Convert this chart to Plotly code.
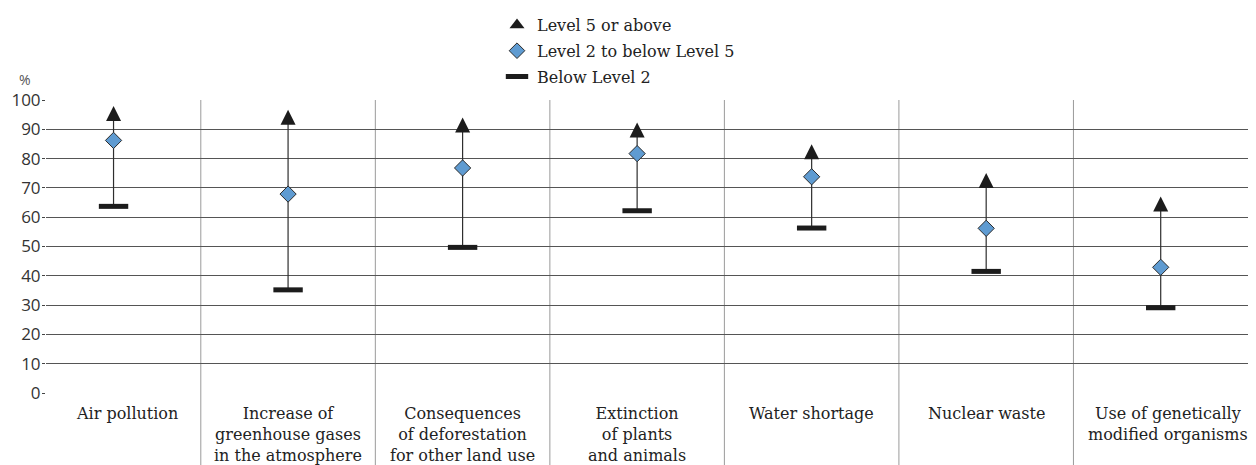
import numpy as np
import plotly.graph_objects as go

# ---------------- data ----------------
categories = [
    "Air pollution",
    "Increase of<br>greenhouse gases<br>in the atmosphere",
    "Consequences<br>of deforestation<br>for other land use",
    "Extinction<br>of plants<br>and animals",
    "Water shortage",
    "Nuclear waste",
    "Use of genetically<br>modified organisms",
]
level5_above = [95.4, 94.1, 91.5, 89.8, 82.3, 72.5, 64.5]
level2_to_5 = [86.2, 67.9, 76.8, 81.7, 73.8, 56.2, 42.9]
below_level2 = [63.7, 35.2, 49.7, 62.2, 56.3, 41.5, 29.1]
y_ticks = list(range(0, 101, 10))
series_names = ["Level 5 or above", "Level 2 to below Level 5", "Below Level 2"]

# ---------------- layout constants (window pixels) ----------------
WIN_W, WIN_H = 1256, 465
BODY = 8                       # default page margin around the figure div
W, H = WIN_W - BODY, WIN_H - BODY
PLOT_L, PLOT_R, PLOT_T, PLOT_B = 46, 1256, 100, 393   # plot area in window pixels
ML, MT = PLOT_L - BODY, PLOT_T - BODY
MR = WIN_W - PLOT_R
MB = (H + BODY) - PLOT_B
XR = [-0.387, 6.546]
YR = [0, 100]
plot_h = PLOT_B - PLOT_T
plot_w = PLOT_R - PLOT_L
px_per_unit = plot_h / (YR[1] - YR[0])
ARROW = 15
d = (ARROW / 2) / px_per_unit  # shift so the arrow marker is centred on its value
LABEL_XSHIFT = [13, 0, 0, 0, 0, 0, 7]    # horizontal nudges of category labels (px)
LABEL_GAP = 9                             # px between axis and first label line

LABEL_FONT = "DejaVu Serif"
TICK_FONT = "Open Sans"
DARK = "#1c1c1c"
BLUE = "#5f9bd1"

x = np.arange(len(categories))
hi = np.array(level5_above)
mid = np.array(level2_to_5)
lo = np.array(below_level2)

fig = go.Figure()

# range line + diamonds (Level 2 to below Level 5)
fig.add_trace(go.Scatter(
    x=x, y=mid, mode="markers", showlegend=False,
    marker=dict(symbol="diamond", size=12.5, color=BLUE, line=dict(color="#2b2b2b", width=1)),
    error_y=dict(type="data", symmetric=False, array=hi - mid, arrayminus=mid - lo,
                 width=0, thickness=1.2, color="#2e2e2e"),
))
# bars (Below Level 2)
fig.add_trace(go.Scatter(
    x=x, y=lo, mode="markers", showlegend=False,
    marker=dict(symbol="line-ew", size=21, line=dict(color=DARK, width=5)),
))
# triangles (Level 5 or above) on an offset overlay axis
fig.add_trace(go.Scatter(
    x=x, y=hi, mode="markers", showlegend=False, yaxis="y2",
    marker=dict(symbol="arrow-up", size=ARROW, color=DARK, line=dict(width=0)),
))

# legend entries
fig.add_trace(go.Scatter(x=[None], y=[None], mode="markers", name=series_names[0], legendgroup="a",
                         marker=dict(symbol="triangle-up", size=13, color=DARK, line=dict(width=0))))
fig.add_trace(go.Scatter(x=[None], y=[None], mode="markers", name=series_names[1], legendgroup="b",
                         marker=dict(symbol="diamond", size=12, color=BLUE, line=dict(color="#2b2b2b", width=1))))
fig.add_trace(go.Scatter(x=[None], y=[None], mode="markers", name=series_names[2], legendgroup="c",
                         marker=dict(symbol="line-ew", size=20, line=dict(color=DARK, width=5))))

# category separators
shapes = []
span = XR[1] - XR[0]
for i in range(len(categories) - 1):
    xp = (i + 0.5 - XR[0]) / span
    shapes.append(dict(type="line", xref="paper", yref="paper", x0=xp, x1=xp,
                       y0=-MB / plot_h, y1=1, line=dict(color="#9a9a9a", width=1), layer="below"))

annotations = [dict(text="%", xref="paper", yref="paper", x=-21 / plot_w, y=1 + 21 / plot_h,
                    xanchor="center", yanchor="middle", showarrow=False,
                    font=dict(family=TICK_FONT, size=14, color="#555"))]
for i, lab in enumerate(categories):
    annotations.append(dict(text=lab, xref="x", yref="paper", x=i, y=-LABEL_GAP / plot_h,
                            xanchor="center", yanchor="top", xshift=LABEL_XSHIFT[i],
                            align="center", showarrow=False,
                            font=dict(family=LABEL_FONT, size=16, color="#222")))

fig.update_layout(
    width=W, height=H,
    margin=dict(l=ML, r=MR, t=MT, b=MB, autoexpand=False),
    plot_bgcolor="white", paper_bgcolor="white",
    shapes=shapes,
    xaxis=dict(range=XR, showticklabels=False, showgrid=False, zeroline=False,
               showline=False, ticks="", automargin=False, fixedrange=True),
    yaxis=dict(range=YR, tickvals=y_ticks, showgrid=True, gridcolor="#555555", gridwidth=1,
               zeroline=False, showline=False, ticks="outside", ticklen=3, tickcolor="#444",
               ticklabelstandoff=-2, automargin=False,
               tickfont=dict(family=TICK_FONT, size=17, color="#333"), fixedrange=True),
    yaxis2=dict(range=[YR[0] - d, YR[1] - d], overlaying="y", visible=False, fixedrange=True),
    legend=dict(x=(497 - PLOT_L) / plot_w, xanchor="left", yref="container", y=1 + 6 / H,
                yanchor="top", traceorder="grouped", tracegroupgap=2,
                font=dict(family=LABEL_FONT, size=16, color="#222"), bgcolor="rgba(0,0,0,0)"),
    annotations=annotations,
)

fig.write_html("out.html")
